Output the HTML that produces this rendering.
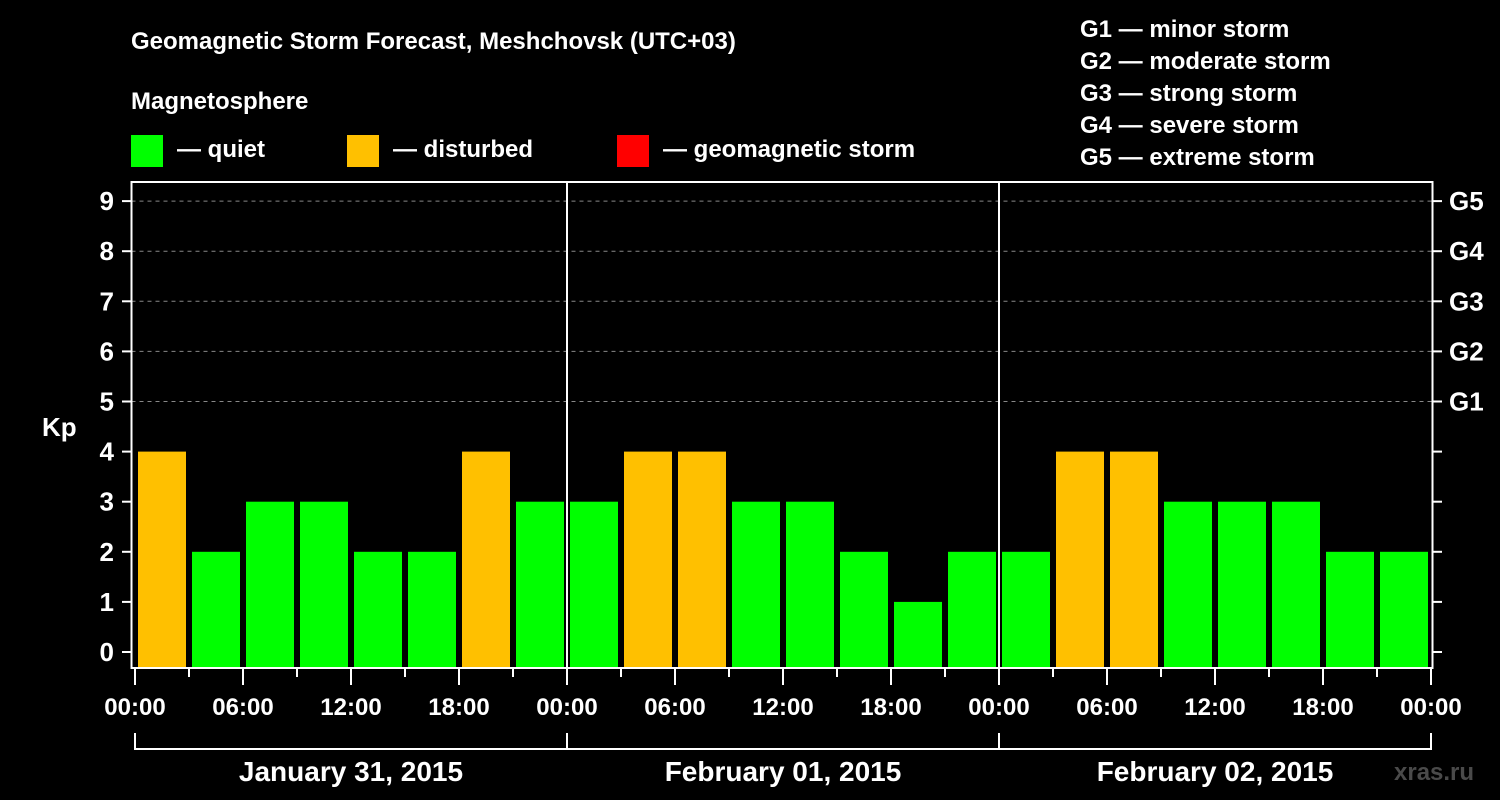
<!DOCTYPE html>
<html><head><meta charset="utf-8"><style>
body{margin:0;background:#000;width:1500px;height:800px;overflow:hidden}
svg{display:block}
text{font-family:"Liberation Sans",sans-serif;font-weight:bold;fill:#fff}
</style></head><body>
<svg id="c" width="1500" height="800" viewBox="0 0 1500 800">
<text x="131" y="49" font-size="24">Geomagnetic Storm Forecast, Meshchovsk (UTC+03)</text>
<text x="131" y="109" font-size="24">Magnetosphere</text>
<rect x="131" y="135" width="32" height="32" fill="#00ff00"/>
<text x="177" y="157" font-size="24">— quiet</text>
<rect x="347" y="135" width="32" height="32" fill="#ffc000"/>
<text x="393" y="157" font-size="24">— disturbed</text>
<rect x="617" y="135" width="32" height="32" fill="#ff0000"/>
<text x="663" y="157" font-size="24">— geomagnetic storm</text>
<g font-size="24">
<text x="1080" y="37">G1 — minor storm</text>
<text x="1080" y="69">G2 — moderate storm</text>
<text x="1080" y="101">G3 — strong storm</text>
<text x="1080" y="133">G4 — severe storm</text>
<text x="1080" y="165">G5 — extreme storm</text>
</g>
<text x="42" y="436" font-size="26">Kp</text>
<text x="1394" y="780" font-size="24" fill="#444" style="fill:#4a4a4a">xras.ru</text>
<g id="grid"></g><g id="bars"></g><g id="axes"></g>
</svg>
<script>
const days=["January 31, 2015","February 01, 2015","February 02, 2015"];
const kpValues=[4,2,3,3,2,2,4,3, 3,4,4,3,3,2,1,2, 2,4,4,3,3,3,2,2];
const yTicks=[0,1,2,3,4,5,6,7,8,9];
const gLabels=["G1","G2","G3","G4","G5"];
const xTickLabels=["00:00","06:00","12:00","18:00"];
const NS="http://www.w3.org/2000/svg";
const X0=135,SLOT=54,Y0=652,UNIT=50.1,TOP=182,BOT=668,LEFT=131.5,RIGHT=1432.5;
const y=v=>Y0-v*UNIT, x=i=>X0+i*SLOT;
function mk(t,a,p){const e=document.createElementNS(NS,t);for(const k in a)e.setAttribute(k,a[k]);p.appendChild(e);return e;}
const grid=document.getElementById('grid'),bars=document.getElementById('bars'),axes=document.getElementById('axes');
yTicks.forEach(v=>{
 if(v>=5){const l=mk('line',{x1:LEFT,x2:RIGHT,y1:y(v),y2:y(v),stroke:'#888','stroke-width':1,'stroke-dasharray':'4 4'},grid);
 
 }
 const t=mk('line',{x1:122,x2:LEFT,y1:y(v),y2:y(v),stroke:'#fff','stroke-width':2},axes);
 
 
 const t2=mk('line',{x1:RIGHT,x2:1442,y1:y(v),y2:y(v),stroke:'#fff','stroke-width':2},axes);
 
 
 const lb=mk('text',{x:114,y:y(v)+9,'text-anchor':'end','font-size':26},axes);lb.textContent=v;
 
 
});
gLabels.forEach((g,i)=>{const lb=mk('text',{x:1449,y:y(5+i)+9,'font-size':26},axes);lb.textContent=g;
 
 });
kpValues.forEach((v,i)=>{
 const c=v>=5?'#ff0000':v>=4?'#ffc000':'#00ff00';
 const r=mk('rect',{x:x(i)+3,y:y(v),width:SLOT-6,height:BOT-y(v),fill:c},bars);
 
 
});
const fr=mk('rect',{x:LEFT,y:TOP,width:RIGHT-LEFT,height:BOT-TOP,fill:'none',stroke:'#fff','stroke-width':2},axes);


for(let d=1;d<days.length;d++){const l=mk('line',{x1:x(d*8),x2:x(d*8),y1:TOP,y2:BOT,stroke:'#fff','stroke-width':2},axes);
 
 }
for(let i=0;i<=kpValues.length;i++){
 const major=i%2===0;
 const t=mk('line',{x1:x(i),x2:x(i),y1:BOT,y2:major?685:677,stroke:'#fff','stroke-width':2},axes);
 
 
 if(major){const lb=mk('text',{x:x(i),y:715,'text-anchor':'middle','font-size':24},axes);
  lb.textContent=xTickLabels[(i/2)%4];
  
  }
}
days.forEach((d,k)=>{
 const a=x(k*8),b=x(k*8+8);
 const p=mk('path',{d:`M${a} 733V749H${b}V733`,fill:'none',stroke:'#fff','stroke-width':2},axes);
 
 
 const lb=mk('text',{x:(a+b)/2,y:781,'text-anchor':'middle','font-size':28},axes);lb.textContent=d;
 
 
});
</script>
</body></html>
